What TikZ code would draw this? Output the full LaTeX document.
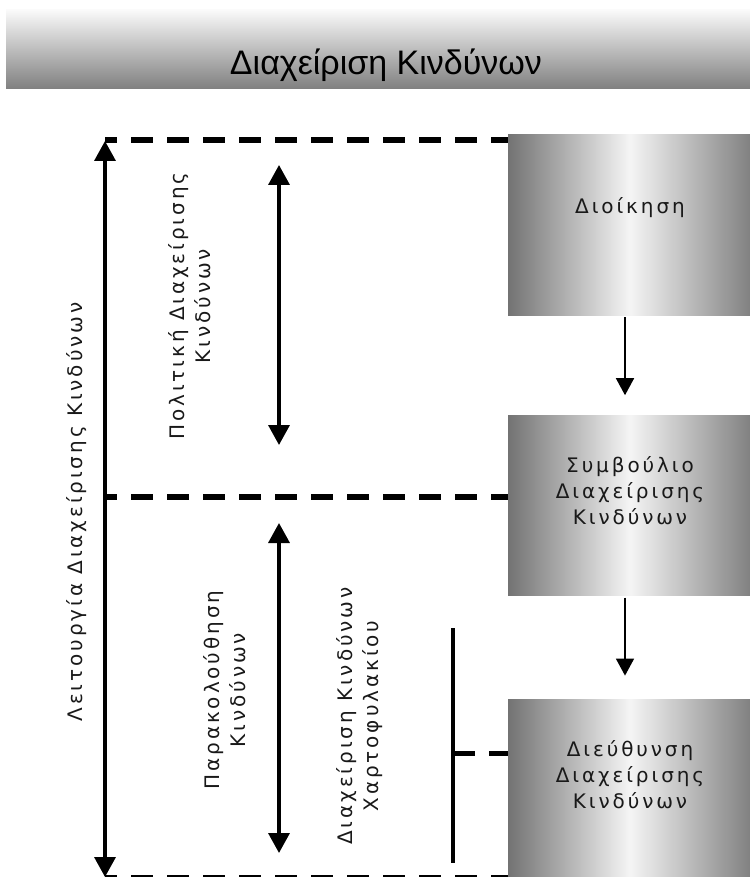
\documentclass[tikz,border=0pt]{standalone}
\usepackage{fontspec}
\setmainfont{DejaVu Sans}
\newfontfamily\titlefont{Liberation Sans}
\newfontfamily\spacedfont[LetterSpace=14.5]{DejaVu Sans}
\usetikzlibrary{positioning,arrows.meta}

\begin{document}
\begin{tikzpicture}[x=1pt,y=-1pt]
  \tikzset{riskbox/.style={minimum width=244pt,minimum height=180pt,inner sep=0pt,
      left color=black!55,right color=black!50,middle color=white!96!black},
    titlebar/.style={minimum width=750pt,minimum height=79pt,inner sep=0pt,
      top color=white!98!black,bottom color=black!50},
    boxtext/.style={font=\spacedfont\fontsize{20}{26}\selectfont,align=center,text=black!90},
    sidetext/.style={boxtext,rotate=90},
    divider/.style={line width=6pt,dash pattern=on 22pt off 14pt,dash phase=10pt},
    flow/.style={line width=1.6pt,-{Triangle[width=18pt,length=17pt]}},
    twoway/.style={line width=3.5pt,{Triangle[width=21pt,length=20pt]}-{Triangle[width=21pt,length=20pt]}}}
  \useasboundingbox (0,0) rectangle (749,877);

  \node[titlebar] (bar) at (381,49.5) {};
  \node[font=\titlefont\fontsize{34}{38}\selectfont,anchor=base] (title) at (386,75) {Διαχείριση Κινδύνων};

  % right column
  \node[riskbox] (dioik) at (630,225) {};
  \node[riskbox,below=100pt of dioik] (symv) {};
  \node[riskbox,below=104pt of symv] (dieth) {};
  \node[boxtext] (dioik-t) at ([yshift=17pt]dioik.center) {Διοίκηση};
  \node[boxtext] (symv-t) at ([yshift=15pt]symv.center) {Συμβούλιο\\Διαχείρισης\\Κινδύνων};
  \node[boxtext] (dieth-t) at ([yshift=15pt]dieth.center) {Διεύθυνση\\Διαχείρισης\\Κινδύνων};

  \draw[flow] ([xshift=-5pt,yshift=-2pt]dioik.south) -- ([xshift=-5pt,yshift=20pt]symv.north);
  \draw[flow] ([xshift=-5pt,yshift=-2pt]symv.south) -- ([xshift=-5pt,yshift=24pt]dieth.north);

  % levels
  \coordinate (topl) at (105,140);
  \coordinate (midl) at (105,497);
  \coordinate (botl) at (105,878);
  \draw[divider] (topl) -- (topl -| dioik.west);
  \draw[divider] (midl) -- (midl -| symv.west);
  \draw[divider] (botl) -- (botl -| dieth.west);
  \draw[twoway] ([yshift=-1pt]topl) -- ([yshift=1pt]botl);
  \node[sidetext] (leit) at (77,512) {Λειτουργία Διαχείρισης Κινδύνων};

  \coordinate (pol-a) at (279,165);
  \coordinate (pol-b) at (279,445);
  \draw[twoway] (pol-a) -- (pol-b);
  \node[sidetext] (pol) at (190,306) {Πολιτική Διαχείρισης\\Κινδύνων};

  \coordinate (par-a) at (279,523);
  \coordinate (par-b) at (279,853);
  \draw[twoway] (par-a) -- (par-b);
  \node[sidetext] (par) at (225,690) {Παρακολούθηση\\Κινδύνων};

  \coordinate (brk-a) at (453,628);
  \coordinate (brk-b) at (453,863);
  \coordinate (brk-m) at (453,753);
  \draw[line width=3.5pt] (brk-a) -- (brk-b);
  \draw[divider,line width=5pt,dash phase=0pt] (brk-m) -- (brk-m -| dieth.west);
  \node[sidetext] (xart) at (360,716) {Διαχείριση Κινδύνων\\Χαρτοφυλακίου};
\end{tikzpicture}
\end{document}
